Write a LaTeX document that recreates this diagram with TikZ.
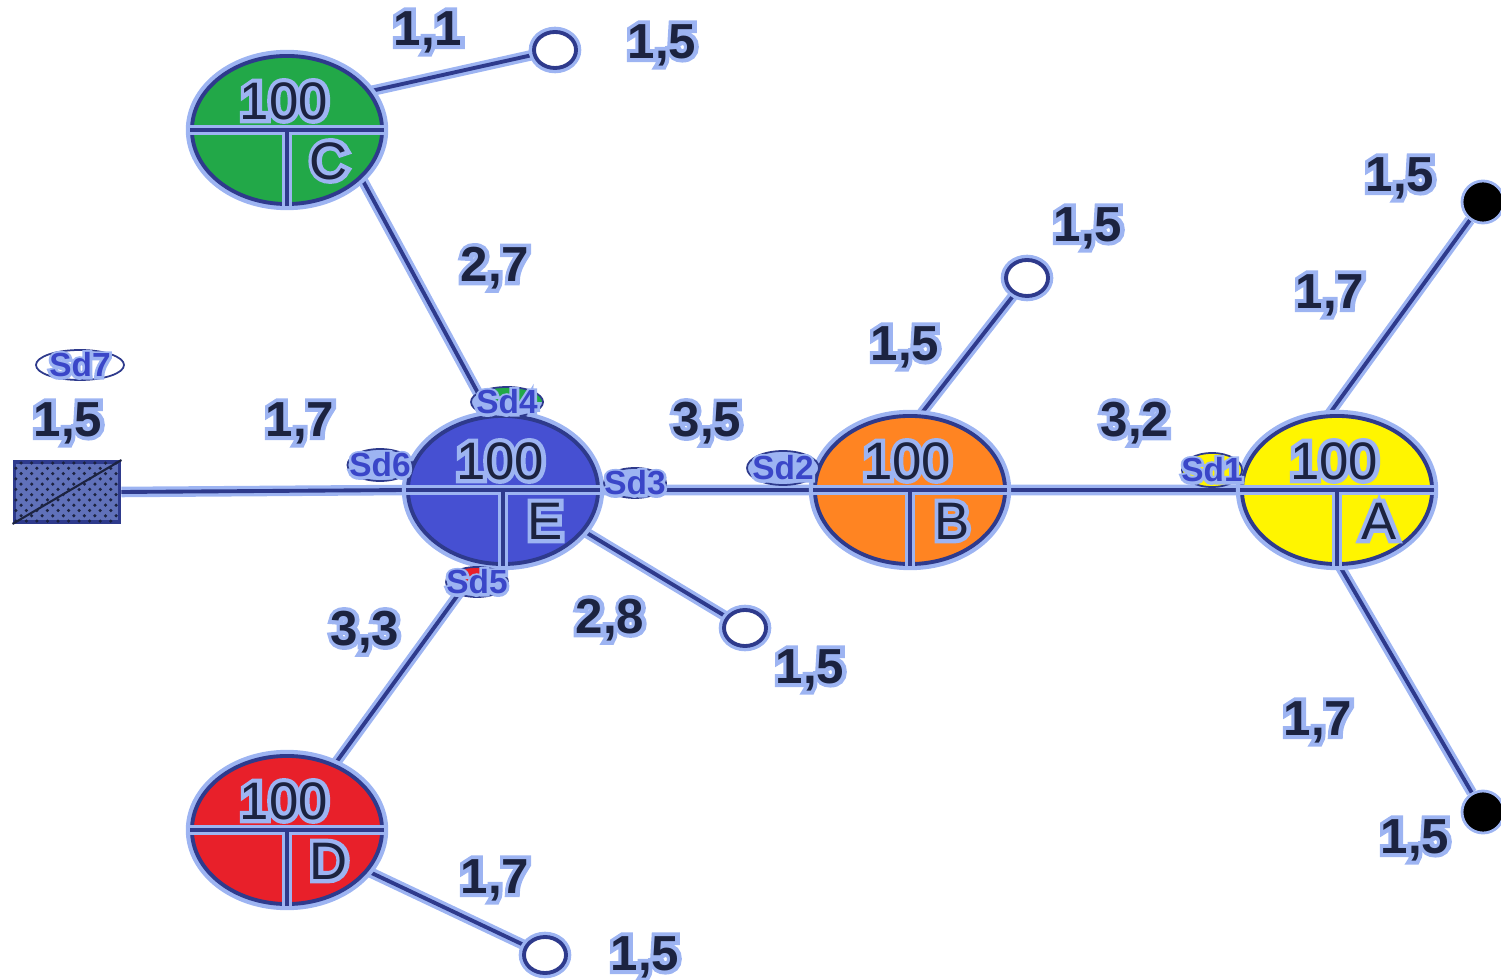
\documentclass[tikz,border=0pt]{standalone}
\usepackage{fontspec}
\setsansfont{Liberation Sans}
\newfontfamily\halofont{Liberation Sans}[FakeBold=16]
\usetikzlibrary{shapes.geometric, patterns, backgrounds}
\definecolor{linie}{HTML}{2E3A8C}
\definecolor{halo}{HTML}{9DB4F2}
\definecolor{schrift}{HTML}{1C2340}
\definecolor{sdblau}{HTML}{3A46C8}
\definecolor{gruen}{HTML}{22A848}
\definecolor{blau}{HTML}{4650D2}
\definecolor{orange}{HTML}{FF8422}
\definecolor{gelb}{HTML}{FFF500}
\definecolor{rot}{HTML}{E8202A}
% Text mit hellblauem Schein: Stil, Name, Ort, Text
\newcommand{\beschrift}[4]{%
  \node[#1, schein] (#2-schein) at (#3) {#4};
  \node[#1] (#2) at (#3) {#4};}

\begin{document}
\begin{tikzpicture}[x=0.01cm, y=-0.01cm,
  kante/.style={draw=linie, line width=1.1pt, preaction={draw=halo, line width=3pt}},
  knoten/.style={ellipse, draw=linie, line width=1.1pt, preaction={draw=halo, line width=3.5pt},
    minimum width=1.9cm, minimum height=1.48cm, inner sep=0pt},
  offen/.style={ellipse, draw=linie, fill=white, line width=1.1pt, preaction={draw=halo, line width=3pt},
    minimum width=0.42cm, minimum height=0.36cm, inner sep=0pt},
  voll/.style={circle, fill=black, draw=halo, line width=0.8pt, minimum size=0.42cm, inner sep=0pt},
  schein/.style={text=halo, execute at begin node=\halofont},
  wert/.style={font=\sffamily\bfseries\fontsize{14}{16}\selectfont, text=schrift},
  zahl/.style={font=\sffamily\fontsize{15}{17}\selectfont, text=schrift},
  sd/.style={ellipse, draw=linie, line width=0.5pt, fill=halo, inner sep=0pt},
  sdtext/.style={font=\sffamily\bfseries\fontsize{9.5}{11}\selectfont, text=sdblau}]
\useasboundingbox (0,0) rectangle (1501,980);

% Verteiler
\foreach \n/\x/\y/\f in {C/287/130/gruen, E/503/490/blau, B/910/490/orange, A/1337/490/gelb, D/287/830/rot}
{
  \node[knoten, fill=\f] (\n) at (\x,\y) {};
  \draw[kante] (\n.west) -- (\n.east) (\n.center) -- (\n.south);
  \beschrift{zahl}{\n-zahl}{[xshift=-0.03cm, yshift=0.29cm]\n.center}{100}
  \beschrift{zahl}{\n-name}{[xshift=0.42cm, yshift=-0.31cm]\n.center}{\n}
}

% Enden
\node[offen] (o1) at (555,50) {};
\node[offen] (o2) at (1027,278) {};
\node[offen] (o3) at (745,628) {};
\node[offen] (o4) at (545,955) {};
\node[voll] (f1) at (1483,202) {};
\node[voll] (f2) at (1483,812) {};
\node[draw=linie, line width=1.1pt, fill=linie!55!halo, postaction={pattern=crosshatch dots, pattern color=schrift},
  minimum width=1.05cm, minimum height=0.6cm, inner sep=0pt] (R) at (67,492) {};
\draw[schrift, line width=0.6pt] (R.south west) -- (R.north east);

\begin{scope}[on background layer]
\draw[kante] (R.east) -- (E.west) (E.east) -- (B.west) (B.east) -- (A.west);
\draw[kante] (C.25) -- (o1);
\draw[kante] (C.-33) -- (E.100);
\draw[kante] (E.-27) -- (o3);
\draw[kante] (E.-107) -- (D.54);
\draw[kante] (D.-27) -- (o4);
\draw[kante] (B.82) -- (o2);
\draw[kante] (A.96) -- (f1);
\draw[kante] (A.-88) -- (f2);
\end{scope}

% Sd
\node[sd, minimum width=0.72cm, minimum height=0.3cm,
  path picture={\fill[gruen] ([xshift=-0.12cm]path picture bounding box.center) rectangle (path picture bounding box.north east);}]
  (sd4) at (507,402) {};
\node[sd, minimum width=0.65cm, minimum height=0.32cm] (sd6) at (380,465) {};
\node[sd, minimum width=0.62cm, minimum height=0.3cm] (sd3) at (635,483) {};
\node[sd, minimum width=0.62cm, minimum height=0.3cm,
  path picture={\fill[rot] (path picture bounding box.north west) rectangle ([xshift=0.1cm]path picture bounding box.center);}]
  (sd5) at (477,582) {};
\node[sd, minimum width=0.72cm, minimum height=0.34cm] (sd2) at (783,468) {};
\node[sd, fill=gelb, minimum width=0.6cm, minimum height=0.34cm] (sd1) at (1212,470) {};
\node[sd, fill=white, minimum width=0.88cm, minimum height=0.3cm] (sd7) at (80,365) {};
\beschrift{sdtext}{sd4-text}{sd4}{Sd4}
\beschrift{sdtext}{sd6-text}{sd6}{Sd6}
\beschrift{sdtext}{sd3-text}{sd3}{Sd3}
\beschrift{sdtext}{sd5-text}{sd5}{Sd5}
\beschrift{sdtext}{sd2-text}{sd2}{Sd2}
\beschrift{sdtext}{sd1-text}{sd1}{Sd1}
\beschrift{sdtext}{sd7-text}{sd7}{Sd7}

% Werte
\beschrift{wert}{w1}{428,32}{1,1}
\beschrift{wert}{w2}{662,45}{1,5}
\beschrift{wert}{w3}{495,268}{2,7}
\beschrift{wert}{w4}{300,423}{1,7}
\beschrift{wert}{w5}{68,423}{1,5}
\beschrift{wert}{w6}{707,423}{3,5}
\beschrift{wert}{w7}{905,347}{1,5}
\beschrift{wert}{w8}{1088,228}{1,5}
\beschrift{wert}{w9}{1135,423}{3,2}
\beschrift{wert}{w10}{1330,295}{1,7}
\beschrift{wert}{w11}{1400,178}{1,5}
\beschrift{wert}{w12}{610,620}{2,8}
\beschrift{wert}{w13}{810,670}{1,5}
\beschrift{wert}{w14}{365,632}{3,3}
\beschrift{wert}{w15}{495,880}{1,7}
\beschrift{wert}{w16}{645,957}{1,5}
\beschrift{wert}{w17}{1318,722}{1,7}
\beschrift{wert}{w18}{1415,840}{1,5}
\end{tikzpicture}
\end{document}
